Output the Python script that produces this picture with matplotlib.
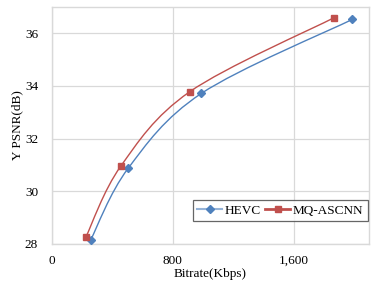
import numpy as np
import matplotlib
matplotlib.use("Agg")
import matplotlib.pyplot as plt
from matplotlib.path import Path
from matplotlib.patches import PathPatch

# 数据
hevc_rate = [256, 504, 990, 1990]
hevc_psnr = [28.15, 30.87, 33.72, 36.53]
mq_rate = [225, 455, 912, 1871]
mq_psnr = [28.27, 30.95, 33.78, 36.60]
x_ticks = [0, 800, 1600]
x_labels = ['0', '800', '1,600']
y_ticks = [28, 30, 32, 34, 36]

plt.rcParams['font.family'] = ['Liberation Serif', 'DejaVu Serif']


def smooth_path(xs, ys, t=1/6.0):
    # Excel 风格的平滑曲线，用贝塞尔控制点
    pts = list(zip(xs, ys))
    verts = [pts[0]]
    codes = [Path.MOVETO]
    n = len(pts)
    for i in range(n - 1):
        p0 = pts[i - 1] if i > 0 else pts[i]
        p1 = pts[i]
        p2 = pts[i + 1]
        p3 = pts[i + 2] if i + 2 < n else pts[i + 1]
        c1 = (p1[0] + (p2[0] - p0[0]) * t, p1[1] + (p2[1] - p0[1]) * t)
        c2 = (p2[0] - (p3[0] - p1[0]) * t, p2[1] - (p3[1] - p1[1]) * t)
        verts += [c1, c2, p2]
        codes += [Path.CURVE4] * 3
    return Path(verts, codes)


fig = plt.figure(figsize=(3.74, 2.89), dpi=100)
ax = fig.add_axes([52 / 374, 45 / 289, 317 / 374, 237 / 289])

blue = '#4F81BD'
red = '#C0504D'
fs = 9.5

ax.add_patch(PathPatch(smooth_path(hevc_rate, hevc_psnr), fill=False,
                       edgecolor=blue, lw=1.0, zorder=3))
ax.add_patch(PathPatch(smooth_path(mq_rate, mq_psnr), fill=False,
                       edgecolor=red, lw=1.0, zorder=3))
ax.plot(hevc_rate, hevc_psnr, ls='none', marker='D', ms=4.5, color=blue, zorder=4)
ax.plot(mq_rate, mq_psnr, ls='none', marker='s', ms=5, color=red, zorder=4)

# 图例用的假线
ax.plot([], [], color='#95B3D7', marker='D', ms=4, mfc=blue, mec=blue,
        lw=1.5, label='HEVC')
ax.plot([], [], color=red, marker='s', ms=4.5, lw=2.0, label='MQ-ASCNN')

ax.set_xlim(0, 2100)
ax.set_ylim(28, 37)
ax.set_xticks(x_ticks)
ax.set_xticklabels(x_labels)
ax.set_yticks(y_ticks)
ax.tick_params(length=0, labelsize=fs)
ax.tick_params(axis='x', pad=8)
ax.tick_params(axis='y', pad=10)
ax.grid(True, color='#d9d9d9', lw=0.9)
ax.set_axisbelow(True)
for s in ax.spines.values():
    s.set_color('#d9d9d9')
    s.set_linewidth(1.0)

ax.set_xlabel('Bitrate(Kbps)', fontsize=fs, labelpad=1)
ax.set_ylabel('Y PSNR(dB)', fontsize=fs, labelpad=1)

leg = ax.legend(loc='lower right', bbox_to_anchor=(0.997, 0.095), ncol=2,
                fontsize=fs, frameon=True, fancybox=False, handlelength=1.9,
                handletextpad=0.2, columnspacing=0.3, borderpad=0.35,
                borderaxespad=0.0)
leg.get_frame().set_edgecolor('#404040')
leg.get_frame().set_linewidth(0.9)

fig.savefig('out.png', dpi=100)
